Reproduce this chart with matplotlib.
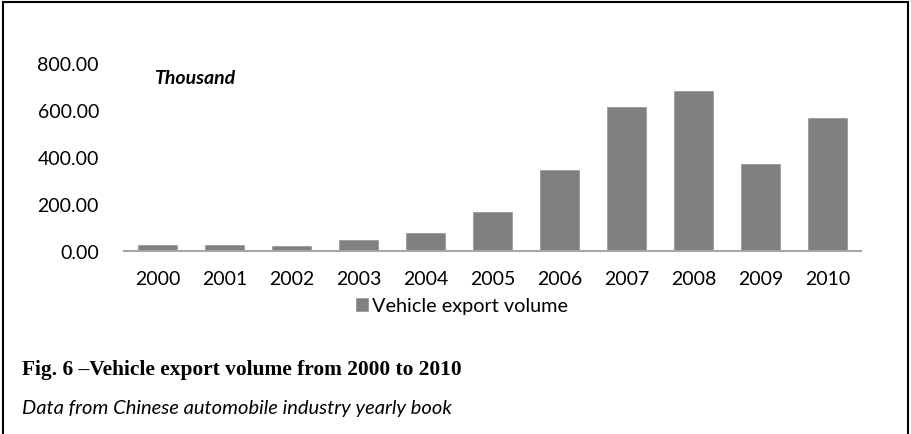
import matplotlib
matplotlib.use("Agg")
import matplotlib.pyplot as plt
from matplotlib.patches import Rectangle

years = ["2000", "2001", "2002", "2003", "2004", "2005", "2006", "2007", "2008", "2009", "2010"]
export_volume = [27, 25, 20, 45, 75, 165, 345, 613, 681, 370, 566]
yticks = [0, 200, 400, 600, 800]
series_name = "Vehicle export volume"
unit_label = "Thousand"
caption = "Fig. 6 \u2013Vehicle export volume from 2000 to 2010"
source = "Data from Chinese automobile industry yearly book"

W, H = 912, 435
fig = plt.figure(figsize=(W / 100, H / 100), dpi=100)
sans = ["Lato", "DejaVu Sans"]

ax = fig.add_axes([124 / W, 1 - 252 / H, (861 - 124) / W, (252 - 64) / H])
x = range(len(years))
bars = ax.bar(x, export_volume, width=0.57, color="#808080", edgecolor="#9a9a9a",
              linewidth=0.6, label=series_name, zorder=2)
ax.set_xlim(-0.5, len(years) - 0.5)
ax.set_ylim(0, 800)
ax.set_yticks(yticks)
ax.set_yticklabels([f"{v:.2f}" for v in yticks], family=sans, fontsize=14)
ax.set_xticks(list(x))
ax.set_xticklabels(years, family=sans, fontsize=14)
for s in ["top", "right", "left"]:
    ax.spines[s].set_visible(False)
ax.spines["bottom"].set_color("#a6a6a6")
ax.spines["bottom"].set_linewidth(1.5)
ax.spines["bottom"].set_zorder(3)
ax.tick_params(axis="both", length=0, colors="black")
ax.tick_params(axis="y", pad=18)
ax.tick_params(axis="x", pad=14)

fig.text(155 / W, 1 - 79 / H, unit_label, family=sans,
         fontsize=14, fontweight="bold", style="italic", va="center", ha="left")

leg = fig.legend(handles=[bars], labels=[series_name], loc="center",
                 bbox_to_anchor=(462 / W, 1 - 307 / H), frameon=False,
                 prop={"family": sans, "size": 14.3}, handlelength=0.62, handleheight=0.62,
                 handletextpad=0.2, borderpad=0)

fig.text(22 / W, 1 - 370 / H, caption, family=["Liberation Serif"], fontsize=15.4,
         fontweight="bold", va="center", ha="left")
fig.text(22 / W, 1 - 409 / H, source, family=sans, fontsize=14.5, style="italic",
         va="center", ha="left")

# outer frame
fig.add_artist(Rectangle((3 / W, -0.01), (908 - 3) / W, 1 - 3 / H + 0.01,
                         transform=fig.transFigure, fill=False, edgecolor="black", linewidth=1.5))

fig.savefig("out.png", dpi=100)
